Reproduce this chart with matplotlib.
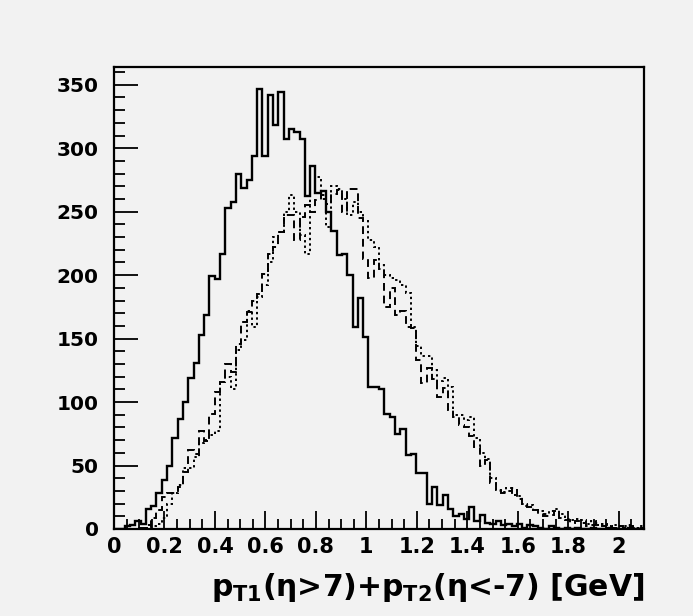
import numpy as np
import matplotlib
matplotlib.use("Agg")
import matplotlib.pyplot as plt
from matplotlib.ticker import MultipleLocator

plt.rcParams['font.family'] = ['DejaVu Sans']
plt.rcParams['font.weight'] = 'bold'
plt.rcParams['mathtext.fontset'] = 'custom'
plt.rcParams['mathtext.rm'] = 'DejaVu Sans:bold'
plt.rcParams['mathtext.it'] = 'DejaVu Sans:bold'
plt.rcParams['mathtext.bf'] = 'DejaVu Sans:bold'

# histogram: 100 bins from 0 to 2.1 GeV
x_min, x_max, n_bins = 0.0, 2.1, 100

solid = [0, 0, 2, 3, 6, 4, 16, 18, 28, 39,
         50, 72, 87, 100, 119, 131, 153, 169, 199, 197,
         217, 253, 258, 280, 269, 275, 294, 347, 294, 342,
         318, 344, 307, 315, 313, 307, 262, 286, 265, 266,
         250, 235, 216, 217, 200, 159, 182, 151, 112, 112,
         110, 91, 88, 75, 79, 58, 59, 44, 44, 20,
         33, 19, 27, 16, 10, 12, 8, 17, 6, 11,
         5, 4, 6, 3, 4, 2, 4, 1, 3, 2,
         1, 0, 2, 1, 0, 1, 0, 1, 0, 0,
         1, 0, 0, 1, 0, 0, 0, 1, 0, 0]

dashed = [0, 0, 0, 0, 1, 1, 3, 9, 15, 25,
          28, 28, 33, 45, 62, 59, 77, 69, 91, 108,
          116, 130, 124, 146, 163, 171, 180, 185, 201, 217,
          222, 234, 247, 247, 228, 246, 255, 250, 259, 263,
          256, 264, 267, 250, 268, 268, 245, 213, 198, 212,
          205, 175, 190, 169, 172, 159, 158, 133, 115, 127,
          118, 104, 111, 94, 88, 82, 80, 73, 65, 50,
          54, 36, 30, 28, 30, 32, 24, 18, 17, 15,
          12, 10, 11, 14, 9, 7, 5, 6, 5, 2,
          3, 5, 2, 2, 1, 2, 1, 2, 1, 1]

dotted = [0, 0, 0, 0, 0, 0, 1, 2, 4, 9,
          20, 28, 35, 48, 48, 57, 68, 70, 74, 77,
          116, 120, 110, 141, 149, 172, 159, 183, 192, 210,
          230, 234, 250, 263, 250, 232, 217, 276, 277, 260,
          238, 270, 268, 260, 247, 258, 250, 243, 228, 222,
          208, 200, 198, 196, 192, 186, 159, 144, 136, 136,
          125, 117, 119, 112, 90, 90, 86, 88, 72, 60,
          55, 40, 31, 29, 32, 27, 26, 20, 19, 15,
          14, 12, 14, 16, 12, 8, 7, 8, 7, 4,
          6, 3, 4, 2, 3, 2, 2, 3, 1, 2]

x_ticks = [0, 0.2, 0.4, 0.6, 0.8, 1.0, 1.2, 1.4, 1.6, 1.8, 2.0]
x_tick_labels = ['0', '0.2', '0.4', '0.6', '0.8', '1', '1.2', '1.4', '1.6', '1.8', '2']
y_ticks = [0, 50, 100, 150, 200, 250, 300, 350]
x_label = r'$p_{T1}$(η>7)+$p_{T2}$(η<-7) [GeV]'

edges = np.linspace(x_min, x_max, n_bins + 1)
bg = '#f2f2f2'

fig = plt.figure(figsize=(6.93, 6.16), dpi=100, facecolor=bg)
ax = fig.add_axes([114/693, 1 - 529/616, (644-114)/693, (529-67)/616])
ax.set_facecolor(bg)

ax.stairs(dotted, edges, baseline=0, color='black', lw=1.4, linestyle=(0, (1.2, 1.6)))
ax.stairs(dashed, edges, baseline=0, color='black', lw=1.4, linestyle=(0, (4, 2.5)))
ax.stairs(solid, edges, baseline=0, color='black', lw=1.7)

ax.set_xlim(x_min, x_max)
ax.set_ylim(0, 364)

ax.set_xticks(x_ticks)
ax.set_xticklabels(x_tick_labels)
ax.set_yticks(y_ticks)
ax.set_yticklabels([str(v) for v in y_ticks])
ax.xaxis.set_minor_locator(MultipleLocator(0.05))
ax.yaxis.set_minor_locator(MultipleLocator(10))

ax.tick_params(axis='both', which='both', direction='in', top=False, right=False,
               width=1.3, color='black')
ax.tick_params(axis='x', which='major', length=13, labelsize=15, pad=6)
ax.tick_params(axis='x', which='minor', length=7)
ax.tick_params(axis='y', which='major', length=17, labelsize=14.5, pad=11)
ax.tick_params(axis='y', which='minor', length=8)
for lab in ax.get_xticklabels() + ax.get_yticklabels():
    lab.set_fontweight('bold')

for sp in ax.spines.values():
    sp.set_linewidth(1.6)
    sp.set_color('black')

ax.set_xlabel(x_label, fontsize=21.5, fontweight='bold', loc='right', labelpad=10)

fig.savefig('out.png', dpi=100, facecolor=bg)
